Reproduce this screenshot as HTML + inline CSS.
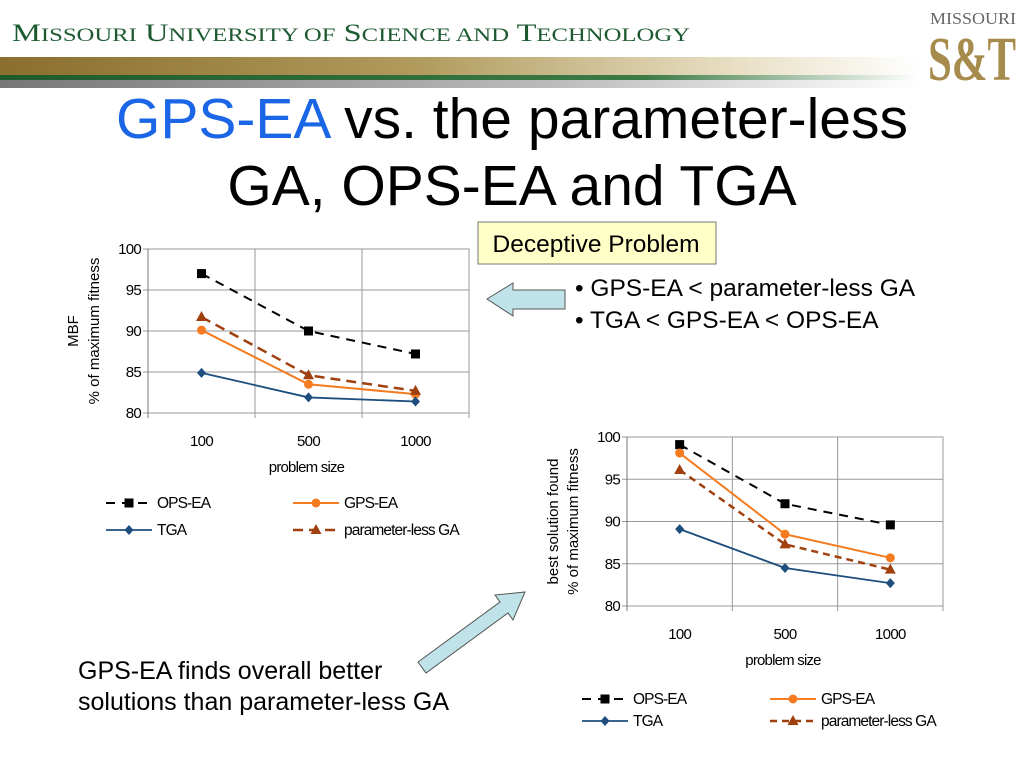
<!DOCTYPE html>
<html><head><meta charset="utf-8"><style>
body{margin:0;width:1024px;height:768px;overflow:hidden;background:#fff;font-family:"Liberation Sans",sans-serif}
svg{position:absolute;left:0;top:0}
</style></head><body>
<svg width="1024" height="768" xmlns="http://www.w3.org/2000/svg" id="s">
<defs>
<linearGradient id="gold" x1="0" x2="1"><stop offset="0" stop-color="#8a6f2e"/><stop offset="0.45" stop-color="#b09a5c"/><stop offset="0.8" stop-color="#e8dfc4"/><stop offset="1" stop-color="#fff"/></linearGradient>
<linearGradient id="green" x1="0" x2="1"><stop offset="0" stop-color="#1f5a2c"/><stop offset="0.7" stop-color="#3c7a45"/><stop offset="1" stop-color="#fff"/></linearGradient>
<linearGradient id="gray" x1="0" x2="1"><stop offset="0" stop-color="#777"/><stop offset="0.6" stop-color="#bbb"/><stop offset="1" stop-color="#fff"/></linearGradient>
</defs>
<g>
<text x="12" y="41" font-family="Liberation Serif,serif" font-size="25" fill="#1e5a31" textLength="678" lengthAdjust="spacingAndGlyphs">M<tspan font-size="19">ISSOURI</tspan> U<tspan font-size="19">NIVERSITY OF</tspan> S<tspan font-size="19">CIENCE AND</tspan> T<tspan font-size="19">ECHNOLOGY</tspan></text>
<rect x="0" y="57" width="920" height="18" fill="url(#gold)"/>
<rect x="0" y="75" width="920" height="5" fill="url(#green)"/>
<rect x="0" y="80" width="920" height="8" fill="url(#gray)"/>
<text x="930" y="24" font-family="Liberation Serif,serif" font-size="17" fill="#666" textLength="86" lengthAdjust="spacingAndGlyphs">MISSOURI</text>
<text x="928" y="80" font-family="Liberation Serif,serif" font-size="62" font-weight="bold" fill="#a68b4c" textLength="88" lengthAdjust="spacingAndGlyphs">S&amp;T</text>
</g>
<text x="512" y="138" text-anchor="middle" font-size="57" fill="#000"><tspan fill="#1a66e6">GPS-EA</tspan> vs. the parameter-less</text>
<text x="512" y="205" text-anchor="middle" font-size="57" fill="#000">GA, OPS-EA and TGA</text>
<rect x="478" y="222" width="238" height="42" fill="#ffffc8" stroke="#777"/>
<text x="596" y="252" text-anchor="middle" font-size="24.5">Deceptive Problem</text>
<text x="575" y="296" font-size="24.5">• GPS-EA &lt; parameter-less GA</text>
<text x="575" y="328" font-size="24.5">• TGA &lt; GPS-EA &lt; OPS-EA</text>
<polygon points="487,299 513,283 513,290 565,290 565,309 513,309 513,316" fill="#bfe3e8" stroke="#555"/>
<polygon points="418,662 500,602 495,595 525,592 513,620 508,613 426,673" fill="#bfe3e8" stroke="#555"/>
<text x="78" y="679" font-size="25">GPS-EA finds overall better</text>
<text x="78" y="710" font-size="25">solutions than parameter-less GA</text>
<g id="c1"></g>
<g id="c2"></g>
</svg>
<script>
const categories=["100","500","1000"];
const yTicks=[80,85,90,95,100];
const seriesNames=["OPS-EA","GPS-EA","TGA","parameter-less GA"];
const mbfOPS=[97,90,87.2];
const mbfGPS=[90.1,83.5,82.3];
const mbfTGA=[84.9,81.9,81.4];
const mbfPLGA=[91.7,84.6,82.7];
const bestOPS=[99.1,92.1,89.6];
const bestGPS=[98.1,88.5,85.7];
const bestTGA=[89.1,84.5,82.7];
const bestPLGA=[96.1,87.3,84.3];
const NS="http://www.w3.org/2000/svg";
function mk(p,t,a,txt){const e=document.createElementNS(NS,t);for(const k in a)e.setAttribute(k,a[k]);if(txt!==undefined)e.textContent=txt;p.appendChild(e);return e;}
const styles=[
 {c:"#000",d:"9,7",w:2,m:"sq"},
 {c:"#f47b20",d:"",w:2,m:"ci"},
 {c:"#1d4e7e",d:"",w:1.8,m:"di"},
 {c:"#a0400f",d:"",w:2.5,m:"tr"}];
function marker(g,m,x,y,c){
 if(m=="sq")mk(g,"rect",{x:x-4.5,y:y-4.5,width:9,height:9,fill:c});
 else if(m=="ci")mk(g,"circle",{cx:x,cy:y,r:4.5,fill:c});
 else if(m=="di")mk(g,"polygon",{points:`${x},${y-5} ${x+4.5},${y} ${x},${y+5} ${x-4.5},${y}`,fill:c});
 else mk(g,"polygon",{points:`${x},${y-6} ${x+5.5},${y+4} ${x-5.5},${y+4}`,fill:c});
}
function chart(id,L,R,T,B,data,titles,tlx,xl,leg,dash4){
 const g=document.getElementById(id);
 const ys=v=>B-(v-80)/20*(B-T);
 const cw=(R-L)/3;const xs=i=>L+cw*(i+0.5);
 mk(g,"rect",{x:L,y:T,width:R-L,height:B-T,fill:"#fff",stroke:"#999"});
 yTicks.forEach(t=>{const y=ys(t);
  const gl=mk(g,"line",{x1:L-5,x2:R,y1:y,y2:y,stroke:"#999"});
  
  
  const tx=mk(g,"text",{x:L-7,y:y+5,"text-anchor":"end","font-size":15,"letter-spacing":"-0.7"},String(t));
  
  });
 for(let i=1;i<=3;i++)mk(g,"line",{x1:L+cw*i,x2:L+cw*i,y1:T,y2:B+5,stroke:"#999"});
 mk(g,"line",{x1:L,x2:L,y1:T,y2:B+5,stroke:"#777"});
 categories.forEach((c,i)=>{const t=mk(g,"text",{x:xs(i),y:B+33,"text-anchor":"middle","font-size":15,"letter-spacing":"-0.7"},c);
  
  });
 const xt=mk(g,"text",{x:(L+R)/2-2,y:B+59,"text-anchor":"middle","font-size":15,"letter-spacing":"-0.8"},"problem size");
 
 
 titles.forEach((t,k)=>{const e=mk(g,"text",{x:0,y:0,transform:`translate(${tlx[k]},${(T+B)/2}) rotate(-90)`,"text-anchor":"middle","font-size":15},t);
  
  });
 data.forEach((vals,si)=>{const s=styles[si];const d=(si==3&&dash4)?dash4:s.d;
  const sg=mk(g,"g",{});
  
  
  mk(sg,"polyline",{points:vals.map((v,i)=>xs(i)+","+ys(v)).join(" "),fill:"none",stroke:s.c,"stroke-width":s.w,"stroke-dasharray":d});
  vals.forEach((v,i)=>marker(sg,s.m,xs(i),ys(v),s.c));
  const lx=leg[si][0],ly=leg[si][1];
  const lg=mk(g,"g",{});
  
  
  mk(lg,"line",{x1:lx,x2:lx+46,y1:ly,y2:ly,stroke:s.c,"stroke-width":s.w,"stroke-dasharray":d});
  marker(lg,s.m,lx+23,ly,s.c);
  mk(lg,"text",{x:lx+51,y:ly+5,"font-size":15.5,"letter-spacing":"-0.9"},seriesNames[si]);
 });
}
chart("c1",148,469,249,413,[mbfOPS,mbfGPS,mbfTGA,mbfPLGA],["MBF","% of maximum fitness"],[78,99],0,[[106,503],[293,503],[106,530],[293,530]],"10,6");
chart("c2",627,943,437,606,[bestOPS,bestGPS,bestTGA,bestPLGA],["best solution found","% of maximum fitness"],[558,578],0,[[582,699],[770,699],[582,721],[770,721]],"7,5");
</script>
</body></html>
